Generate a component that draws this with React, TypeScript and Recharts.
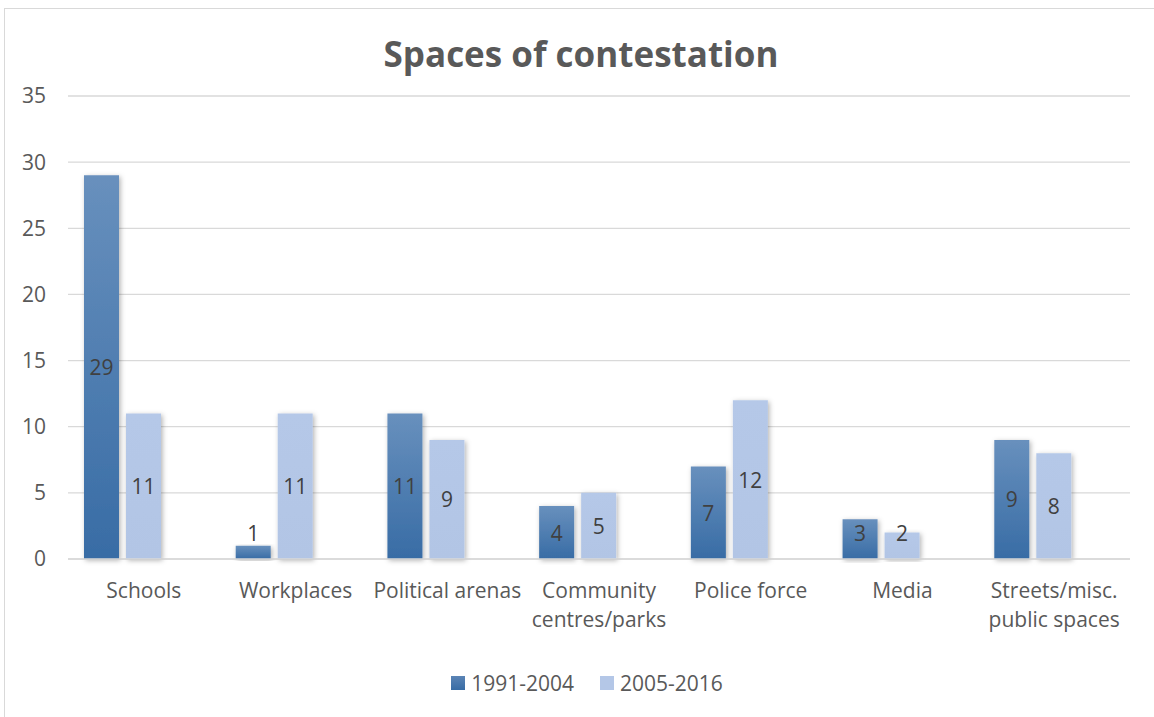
import { BarChart, Bar, XAxis, YAxis, CartesianGrid, LabelList } from 'recharts';

const categories = [
  'Schools',
  'Workplaces',
  'Political arenas',
  'Community centres/parks',
  'Police force',
  'Media',
  'Streets/misc. public spaces',
];
const earlyPeriod = [29, 1, 11, 4, 7, 3, 9];
const latePeriod = [11, 11, 9, 5, 12, 2, 8];
const yTicks = [0, 5, 10, 15, 20, 25, 30, 35];

const seriesNames = ['1991-2004', '2005-2016'];

// Excel-style wrapped category names
const tickLines: Record<string, string[]> = {
  'Community centres/parks': ['Community', 'centres/parks'],
  'Streets/misc. public spaces': ['Streets/misc.', 'public spaces'],
};

const data = categories.map((name, i) => ({
  name,
  early: earlyPeriod[i],
  late: latePeriod[i],
}));

const FONT = '"Open Sans", Lato, sans-serif';
const TEXT = '#595959';

const renderTick = (props: any) => {
  const { x, y, payload } = props;
  const lines = tickLines[payload.value] || [payload.value];
  return (
    <g transform={`translate(${x},${y})`}>
      {lines.map((line, i) => (
        <text
          key={line}
          x={0}
          y={31 + i * 29}
          textAnchor="middle"
          fill={TEXT}
          fontSize={21}
          fontFamily={FONT}
        >
          {line}
        </text>
      ))}
    </g>
  );
};

// labels sit in the middle of the bar, but never lower than just above the axis
const renderValue = (props: any) => {
  const { x, y, width, height, value } = props;
  const base = y + height;
  const cy = Math.min(y + height / 2, base - 26);
  return (
    <text
      x={x + width / 2}
      y={cy}
      dy={8}
      textAnchor="middle"
      fill="#404040"
      fontSize={21}
      fontFamily={FONT}
    >
      {value}
    </text>
  );
};

export default function App() {
  return (
    <div
      style={{
        position: 'fixed',
        left: 0,
        top: 0,
        width: 1154,
        height: 717,
        background: '#fff',
        overflow: 'hidden',
      }}
    >
      <div
        style={{
          position: 'absolute',
          left: 4,
          top: 8,
          width: 1160,
          height: 720,
          border: '1px solid #d9d9d9',
          boxSizing: 'border-box',
        }}
      />
      <div
        style={{
          position: 'absolute',
          left: 0,
          top: 29,
          width: 1162,
          textAlign: 'center',
          fontFamily: FONT,
          fontWeight: 700,
          fontSize: 35,
          color: TEXT,
          lineHeight: '50px',
        }}
      >
        Spaces of contestation
      </div>
      <BarChart
        width={1154}
        height={717}
        data={data}
        margin={{ top: 96, right: 24, bottom: 88, left: 8 }}
        barSize={35}
        barGap={7}
        barCategoryGap={37}
        style={{ position: 'absolute', left: 0, top: 0 }}
      >
        <defs>
          <linearGradient id="earlyFill" x1="0" y1="0" x2="0" y2="1">
            <stop offset="0%" stopColor="#6890bd" />
            <stop offset="100%" stopColor="#386ca5" />
          </linearGradient>
          <linearGradient id="lateFill" x1="0" y1="0" x2="0" y2="1">
            <stop offset="0%" stopColor="#b5c8e8" />
            <stop offset="100%" stopColor="#b2c5e5" />
          </linearGradient>
          <filter id="barShadow" x="-30%" y="-10%" width="160%" height="120%">
            <feDropShadow dx="1.5" dy="1.5" stdDeviation="2.5" floodColor="#000" floodOpacity="0.3" />
          </filter>
        </defs>
        <CartesianGrid vertical={false} stroke="#d9d9d9" strokeWidth={1.3} />
        <XAxis
          dataKey="name"
          axisLine={{ stroke: '#d9d9d9', strokeWidth: 1.3 }}
          tickLine={false}
          interval={0}
          height={70}
          tick={renderTick}
        />
        <YAxis
          domain={[0, 35]}
          ticks={yTicks}
          width={60}
          axisLine={false}
          tickLine={false}
          tick={{ fill: TEXT, fontSize: 21, fontFamily: FONT, dx: -14 }}
        />
        <Bar dataKey="early" fill="url(#earlyFill)" filter="url(#barShadow)" isAnimationActive={false}>
          <LabelList dataKey="early" content={renderValue} />
        </Bar>
        <Bar dataKey="late" fill="url(#lateFill)" filter="url(#barShadow)" isAnimationActive={false}>
          <LabelList dataKey="late" content={renderValue} />
        </Bar>
        {/* third, empty series slot keeps the pair left of the category centre */}
        <Bar dataKey="unused" fill="none" isAnimationActive={false} />
      </BarChart>
      <div
        style={{
          position: 'absolute',
          left: 0,
          top: 671,
          width: 1174,
          display: 'flex',
          justifyContent: 'center',
          gap: 26,
          fontFamily: FONT,
          fontSize: 21,
          color: TEXT,
          lineHeight: '24px',
        }}
      >
        {seriesNames.map((s, i) => (
          <div key={s} style={{ display: 'flex', alignItems: 'center', gap: 6 }}>
            <span
              style={{
                display: 'inline-block',
                width: 14,
                height: 14,
                background: i === 0 ? 'linear-gradient(#5b84b5, #386ca5)' : '#b4c7e7',
              }}
            />
            <span>{s}</span>
          </div>
        ))}
      </div>
    </div>
  );
}
